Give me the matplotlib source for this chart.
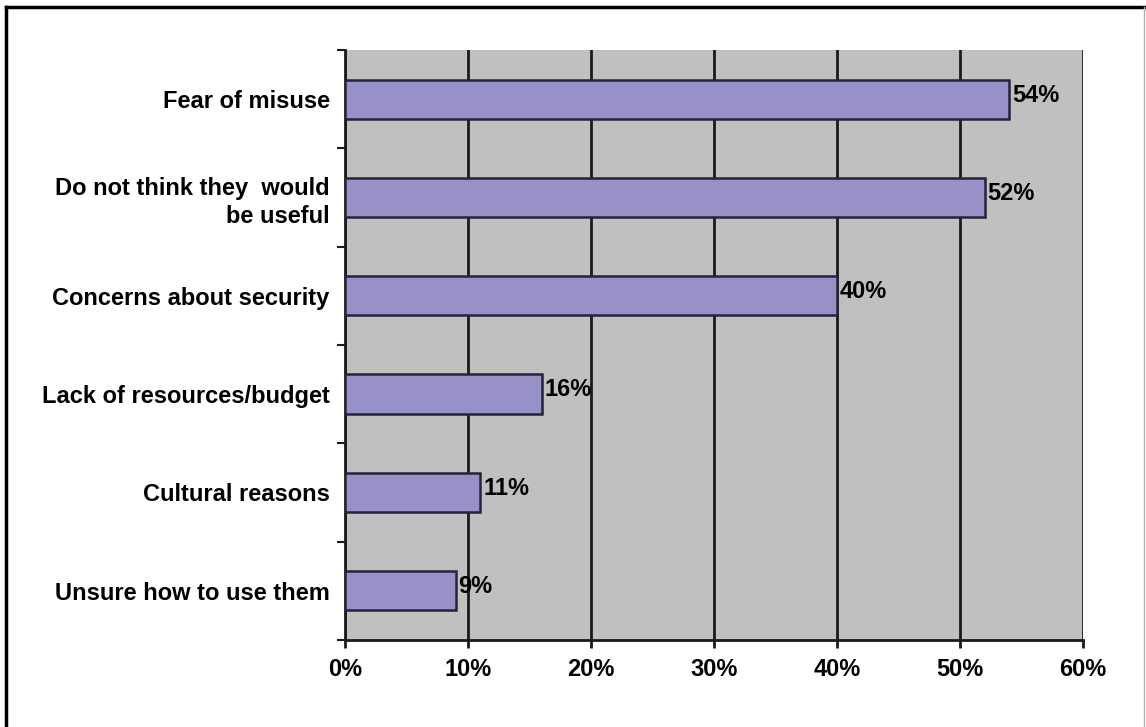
import matplotlib
matplotlib.use("Agg")
import matplotlib.pyplot as plt
from matplotlib.lines import Line2D
import numpy as np

# Reasons for not using the tools, share of respondents
categories = [
    "Fear of misuse",
    "Do not think they  would\nbe useful",
    "Concerns about security",
    "Lack of resources/budget",
    "Cultural reasons",
    "Unsure how to use them",
]
values = [54, 52, 40, 16, 11, 9]
value_labels = ["54%", "52%", "40%", "16%", "11%", "9%"]
x_ticks = [0, 10, 20, 30, 40, 50, 60]
x_tick_labels = ["0%", "10%", "20%", "30%", "40%", "50%", "60%"]

plt.rcParams["font.family"] = ["Liberation Sans", "DejaVu Sans"]
plt.rcParams["font.weight"] = "bold"

fig = plt.figure(figsize=(11.46, 7.27), dpi=100)
ax = fig.add_axes([0.301, 0.1197, 0.644, 0.8115])

ax.set_facecolor("#c0c0c0")
y = np.arange(len(categories))
ax.barh(y, values, height=0.4, color="#9891c8", edgecolor="#23233a",
        linewidth=1.8, zorder=3)

ax.set_xlim(0, 60)
ax.set_ylim(len(categories) - 0.5, -0.5)

# vertical gridlines
ax.set_xticks(x_ticks)
ax.set_xticklabels(x_tick_labels, fontsize=17, fontweight="bold")
ax.xaxis.grid(True, color="#1a1a1a", linewidth=2, zorder=1)
ax.set_axisbelow(True)
ax.tick_params(axis="x", direction="out", length=6, width=2, color="#1a1a1a",
               pad=7)

# category labels centred on bars, ticks at category boundaries
ax.set_yticks(y)
ax.set_yticklabels(categories, fontsize=17, fontweight="bold", ha="right",
                   linespacing=1.3)
ax.tick_params(axis="y", which="major", length=0, pad=11)
ax.set_yticks(np.arange(-0.5, len(categories)), minor=True)
ax.tick_params(axis="y", which="minor", direction="out", length=6, width=1.5,
               color="#1a1a1a")

for s in ["top", "right"]:
    ax.spines[s].set_visible(False)
for s in ["left", "bottom"]:
    ax.spines[s].set_linewidth(2)
    ax.spines[s].set_color("#1a1a1a")

for yi, v, t in zip(y, values, value_labels):
    ax.annotate(t, xy=(v, yi), xytext=(2, 3), textcoords="offset points",
                ha="left", va="center", fontsize=17, fontweight="bold",
                color="black", zorder=4)

# frame around the figure
fig.add_artist(Line2D([0.0055, 0.0055], [0.0, 0.9905], transform=fig.transFigure,
                      color="black", linewidth=2.5))
fig.add_artist(Line2D([0.0055, 0.9985], [0.9905, 0.9905], transform=fig.transFigure,
                      color="black", linewidth=2.5))
fig.add_artist(Line2D([0.9985, 0.9985], [0.0, 0.9905], transform=fig.transFigure,
                      color="#b0b0b0", linewidth=1))

fig.savefig("out.png", dpi=100, facecolor="white")
